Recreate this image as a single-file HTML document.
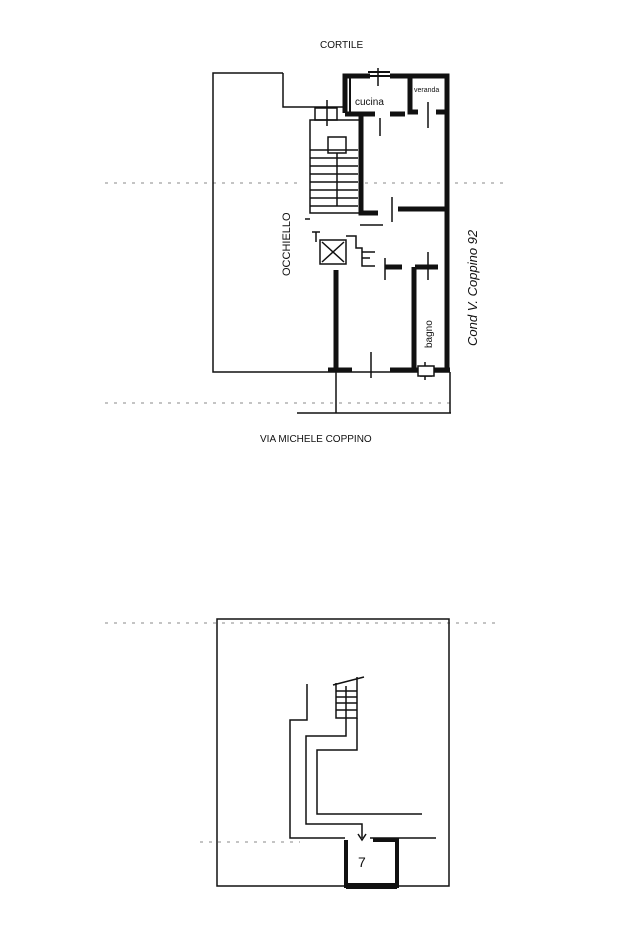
<!DOCTYPE html>
<html><head><meta charset="utf-8"><style>
html,body{margin:0;padding:0;background:#fff;}
svg{display:block;}
text{font-family:"Liberation Sans",sans-serif;fill:#111;}
</style></head><body>
<svg width="620" height="930" viewBox="0 0 620 930" xmlns="http://www.w3.org/2000/svg">
<g stroke="#111" fill="none">
<!-- dotted lines -->
<g stroke="#888" stroke-width="1" stroke-dasharray="3,6">
<line x1="105" y1="183" x2="300" y2="183"/><line x1="365" y1="183" x2="505" y2="183"/>
<line x1="105" y1="403" x2="450" y2="403"/>
<line x1="105" y1="623" x2="495" y2="623"/>
<line x1="200" y1="842" x2="300" y2="842"/>
</g>
<!-- top plan outline thin -->
<path d="M283,73 L213,73 L213,372 L450,372" stroke-width="1.5"/>
<path d="M283,73 L283,107 L343,107" stroke-width="1.5"/>
<path d="M336,372 L336,413 M297,413 L451,413 M450,372 L450,413" stroke-width="1.5"/>
<!-- thick walls -->
<g stroke-width="5">
<path d="M345,113 L345,76 L370,76 M390,76 L447,76 L447,372"/>
<path d="M345,114 L375,114 M390,114 L405,114"/>
<path d="M410,76 L410,112 L418,112"/>
<path d="M436,112 L447,112"/>
<path d="M361,114 L361,213 L378,213"/>
<path d="M398,209 L447,209"/>
<path d="M336,270 L336,372"/>
<path d="M385,267 L402,267 M415,267 L438,267"/>
<path d="M414,267 L414,372"/>
<path d="M328,370 L352,370 M390,370 L418,370 M433,370 L450,370"/>
</g>
<path d="M350,113 L350,76" stroke-width="2"/>
<!-- stair -->
<g stroke-width="1.5">
<rect x="310" y="120" width="50" height="93"/>
<path d="M305,219 L310,219"/>
<rect x="328" y="137" width="18" height="16"/>
<path d="M337,153 L337,206"/>
<path d="M310,150 L358,150 M310,158 L358,158 M310,166 L358,166 M310,174 L358,174 M310,182 L358,182 M310,190 L358,190 M310,198 L358,198 M310,206 L358,206"/>
<rect x="315" y="108" width="22" height="12"/>
<path d="M327,100 L327,126 M378,68 L378,86 M373,76 L385,76"/>
<path d="M362,76 L396,76 M368,72 L390,72" stroke-width="2"/>
<!-- elevator -->
<rect x="320" y="240" width="26" height="24"/>
<path d="M322,242 L344,262 M344,242 L322,262"/>
<path d="M346,236 L356,236 L356,248 L362,248 L362,266 L375,266"/>
<path d="M312,232 L320,232 M316,232 L316,242"/>
<path d="M362,252 L375,252 M362,258 L370,258"/>
<path d="M360,225 L383,225"/>
<!-- door ticks -->
<path d="M380,118 L380,136 M428,102 L428,128 M392,197 L392,222 M428,252 L428,280 M385,258 L385,280 M371,352 L371,378 M425,362 L425,380 M420,376 L432,376"/>
</g>
<rect x="418" y="366" width="16" height="10" stroke-width="1.5" fill="#fff"/>
<!-- bottom plan -->
<rect x="217" y="619" width="232" height="267" stroke-width="1.5"/>
<g stroke-width="1.5">
<path d="M307,684 L307,720 L290,720 L290,838 L345,838 M370,838 L436,838"/>
<path d="M336,683 L336,718 L357,718 L357,677 M333,685 L364,677"/>
<path d="M336,691 L357,691 M336,697 L357,697 M336,703 L357,703 M336,710 L357,710"/>
<path d="M346,686 L346,736 L306,736 L306,824 L362,824 L362,838"/>
<path d="M357,718 L357,750 L317,750 L317,814 L422,814"/>
<path d="M358,834 L362,840 L366,834"/>
</g>
<path d="M346,840 L346,886 L397,886 L397,840 L373,840" stroke-width="4"/>
<path d="M346,886 L397,886" stroke-width="6"/>
</g>
<text x="320" y="48" font-size="10">CORTILE</text>
<text x="260" y="442" font-size="10">VIA MICHELE COPPINO</text>
<text x="355" y="105" font-size="10">cucina</text>
<text x="414" y="92" font-size="7">veranda</text>
<text transform="translate(290,276) rotate(-90)" font-size="11">OCCHIELLO</text>
<text transform="translate(432,348) rotate(-90)" font-size="10">bagno</text>
<text transform="translate(477,346) rotate(-90)" font-size="13" font-style="italic">Cond  V. Coppino  92</text>
<text x="358" y="867" font-size="14">7</text>
</svg>
</body></html>
